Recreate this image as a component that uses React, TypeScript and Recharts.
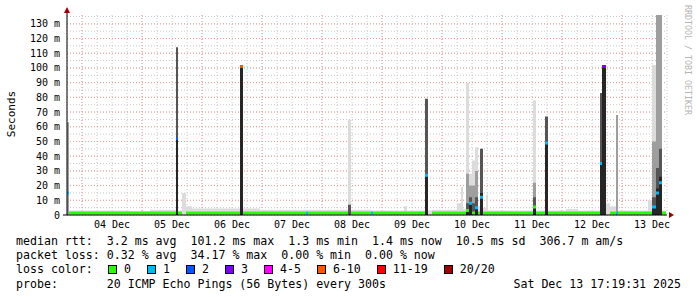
import {
  ComposedChart,
  Area,
  Line,
  XAxis,
  YAxis,
  CartesianGrid,
  ReferenceDot,
  ReferenceLine,
} from "recharts"

document.body.style.margin = "0"

// hours since 03 Dec 18:00; each entry holds until the next one
const hours = [
  0, 0.8, 25.2, 33.2, 43.6, 44.4, 46, 47.6, 50, 69.2, 70.4, 77.2, 95.6, 96.4, 112.4, 113.6, 121.6, 122.4,
  134.8, 136, 143.2, 144.4, 146, 156, 157.6, 158.4, 159.6, 160.8, 162, 163.2, 164.4, 165.2, 166.4, 167.6,
  168.4, 186.4, 187.6, 191.2, 192.4, 199.6, 204.4, 213.2, 214, 215.6, 217.2, 219.6, 220.4, 232.4, 234,
  235.6, 236.8, 238, 239.6, 240,
]
// smoke layers (top of each band in ms), lightest first
const smoke1 = [
  0, 3, 2.5, 3.5, 0, 3, 15, 6, 4.5, 0, 4.5, 3.5, 3.5, 3.5, 65, 3.5, 3, 3, 6, 3, 0, 3, 3.5, 8, 19, 4, 90, 28,
  37, 46, 6, 0, 5, 14, 3, 78, 3, 0, 3, 4, 3, 15, 0, 8, 6, 0, 3, 10, 102, 0, 0, 3, 0, 0,
]
const smoke2 = [
  63, 0, 0, 0, 0, 0, 0, 0, 0, 0, 0, 0, 0, 0, 0, 0, 0, 0, 0, 0, 0, 0, 0, 0, 0, 0, 28, 20, 20, 30, 0, 0, 0, 0,
  0, 22, 0, 0, 0, 0, 0, 0, 0, 0, 0, 68, 0, 0, 50, 136, 136, 0, 0, 0,
]
const smoke3 = [
  0, 0, 0, 0, 114, 0, 0, 0, 0, 0, 0, 0, 0, 0, 7, 0, 0, 0, 0, 0, 79, 0, 0, 0, 0, 0, 8, 12, 8, 12, 0, 45, 0, 0,
  0, 12, 0, 67, 0, 0, 0, 83, 0, 0, 0, 0, 0, 0, 12, 32, 45, 0, 0, 0,
]
const smoke4 = [
  0, 0, 0, 0, 52, 0, 0, 0, 0, 101, 0, 0, 0, 0, 0, 0, 0, 0, 0, 0, 27, 0, 0, 0, 0, 0, 3, 8, 0, 5, 0, 15, 0, 0,
  0, 5, 0, 49, 0, 0, 0, 36, 101, 0, 0, 0, 0, 0, 6, 18, 26, 0, 0, 0,
]
const medianRtt = [
  15, 1.4, 1.4, 1.4, 52, 1.4, null, 1.4, 1.4, 101, 1.4, 1.4, 1.4, 1.4, null, 1.4, 1.4, 1.4, 1.4, 1.4, 27,
  null, 1.4, 1.4, 1.4, 1.4, 3, 8, 1.4, 5, 1.4, 12, 1.4, 1.4, 1.4, 5.4, 1.4, 49, 1.4, 1.4, 1.4, 35, 101,
  null, 1.4, 1.4, 1.4, 1.4, 5.5, 15, 22, 1.4, null, null,
]
// index into lossLabels / lossColors, -1 = nothing drawn
const lossBucket = [
  1, 0, 0, 0, 2, 0, -1, 0, 0, 5, 0, 0, 1, 0, -1, 0, 1, 0, 0, 0, 1, -1, 0, 0, 0, 0, 0, 1, 0, 1, 0, 1, 0, 0, 0,
  0, 0, 1, 0, 0, 0, 1, 3, -1, 0, 1, 0, 0, 1, 1, 1, 0, -1, -1,
]

const dayTicks = [18, 42, 66, 90, 114, 138, 162, 186, 210, 234]
const dayLabels = ["04 Dec", "05 Dec", "06 Dec", "07 Dec", "08 Dec", "09 Dec", "10 Dec", "11 Dec", "12 Dec", "13 Dec"]
const msTicks = [0, 10, 20, 30, 40, 50, 60, 70, 80, 90, 100, 110, 120, 130]

const lossLabels = ["0", "1", "2", "3", "4-5", "6-10", "11-19", "20/20"]
const lossColors = ["#26ff00", "#00b8ff", "#0059ff", "#7e00ff", "#ff00ff", "#ff5500", "#ff0000", "#a10000"]
const smokeColors = ["#dcdcdc", "#9e9e9e", "#555555", "#262626"]

// every step becomes a flat piece; a null row between steps keeps the median pieces apart
const rows: Record<string, number | null>[] = []
for (let i = 0; i < hours.length - 1; i++) {
  for (const t of [hours[i], hours[i + 1], hours[i + 1]]) {
    const last = rows.length % 3 === 2
    const row: Record<string, number | null> = {
      t,
      s1: smoke1[i],
      s2: smoke2[i],
      s3: smoke3[i],
      s4: smoke4[i],
    }
    lossColors.forEach((_, c) => {
      row["m" + c] = !last && lossBucket[i] === c ? medianRtt[i] : null
    })
    rows.push(row)
  }
}

const minorH = Array.from({ length: 28 }, (_, i) => i * 5)
const minorV = Array.from({ length: 41 }, (_, i) => i * 6)
const majorH = msTicks
const majorV = dayTicks.map((d) => d - 12)

const mono = "DejaVu Sans Mono"
const arrowColor = "#990000"

const XArrow = (p: any) => (
  <path d={`M${p.cx + 2},${p.cy - 3} L${p.cx + 7},${p.cy} L${p.cx + 2},${p.cy + 3} Z`} fill={arrowColor} />
)
const YArrow = (p: any) => (
  <g>
    <line x1={p.cx} y1={p.cy} x2={p.cx} y2={p.cy - 3} stroke="#000" />
    <path d={`M${p.cx - 3},${p.cy - 2} L${p.cx},${p.cy - 8} L${p.cx + 3},${p.cy - 2} Z`} fill={arrowColor} />
  </g>
)

const textRow = (top: number): React.CSSProperties => ({
  position: "absolute",
  left: 16,
  top,
  height: 14,
  lineHeight: "14px",
  fontFamily: mono,
  fontSize: 11.6,
  whiteSpace: "pre",
  color: "#000",
})

export default function App() {
  return (
    <div style={{ position: "relative", width: 697, height: 297, background: "#fff", overflow: "hidden" }}>
      <ComposedChart width={697} height={297} data={rows} margin={{ top: 15, right: 30, left: 0, bottom: 52 }}>
        <CartesianGrid
          horizontalValues={minorH}
          verticalValues={minorV}
          stroke="#c8c8c8"
          strokeDasharray="1 2"
        />
        <CartesianGrid
          horizontalValues={majorH}
          verticalValues={majorV}
          stroke="#eba0a0"
          strokeDasharray="1 2"
        />
        <XAxis
          type="number"
          dataKey="t"
          domain={[0, 240]}
          ticks={dayTicks}
          interval={0}
          height={30}
          tickFormatter={(v) => dayLabels[dayTicks.indexOf(v)]}
          tick={{ fontFamily: mono, fontSize: 10, fill: "#000" }}
          tickLine={false}
          tickSize={0}
          tickMargin={6}
          axisLine={false}
          allowDataOverflow
        />
        <YAxis
          type="number"
          domain={[0, 136]}
          ticks={msTicks}
          interval={0}
          width={67}
          tickFormatter={(v) => (v === 0 ? "0" : `${v} m`)}
          tick={{ fontFamily: mono, fontSize: 10, fill: "#000" }}
          tickLine={false}
          tickSize={0}
          tickMargin={7}
          axisLine={{ stroke: "#000" }}
          allowDataOverflow
        />
        {["s1", "s2", "s3", "s4"].map((k, i) => (
          <Area
            key={k}
            type="linear"
            dataKey={k}
            fill={smokeColors[i]}
            fillOpacity={1}
            stroke="none"
            isAnimationActive={false}
          />
        ))}
        {lossColors.map((c, i) => (
          <Line
            key={c}
            type="linear"
            dataKey={"m" + i}
            stroke={c}
            strokeWidth={3}
            strokeLinecap="butt"
            dot={false}
            activeDot={false}
            connectNulls={false}
            isAnimationActive={false}
          />
        ))}
        <ReferenceLine
          segment={[
            { x: -1.6, y: 0 },
            { x: 240, y: 0 },
          ]}
          stroke="#000"
          ifOverflow="visible"
        />
        <ReferenceDot x={240} y={0} r={0} shape={XArrow} ifOverflow="visible" />
        <ReferenceDot x={0} y={136} r={0} shape={YArrow} ifOverflow="visible" />
      </ComposedChart>

      <div
        style={{
          position: "absolute",
          left: 11,
          top: 114,
          transform: "translate(-50%, -50%) rotate(-90deg)",
          fontFamily: mono,
          fontSize: 11,
          whiteSpace: "pre",
          color: "#000",
        }}
      >
        Seconds
      </div>
      <div
        style={{
          position: "absolute",
          left: 688,
          top: 60,
          transform: "translate(-50%, -50%) rotate(90deg)",
          fontFamily: mono,
          fontSize: 8.3,
          whiteSpace: "pre",
          color: "#b5b5b5",
        }}
      >
        RRDTOOL / TOBI OETIKER
      </div>

      <div style={textRow(234)}>
        {"median rtt:  3.2 ms avg  101.2 ms max  1.3 ms min  1.4 ms now  10.5 ms sd  306.7 m am/s"}
      </div>
      <div style={textRow(248)}>{"packet loss: 0.32 % avg  34.17 % max  0.00 % min  0.00 % now"}</div>
      <div style={{ ...textRow(262), display: "flex", alignItems: "center" }}>
        <span style={{ width: 92 }}>loss color:</span>
        {lossLabels.map((l, i) => (
          <span key={l} style={{ display: "flex", alignItems: "center", marginRight: 16 }}>
            <span
              style={{
                width: 7,
                height: 7,
                background: lossColors[i],
                border: "1px solid #000",
                marginRight: 7,
              }}
            />
            {l}
          </span>
        ))}
      </div>
      <div style={textRow(277)}>{"probe:       20 ICMP Echo Pings (56 Bytes) every 300s"}</div>
      <div style={{ ...textRow(277), left: "auto", right: 16 }}>Sat Dec 13 17:19:31 2025</div>
    </div>
  )
}
